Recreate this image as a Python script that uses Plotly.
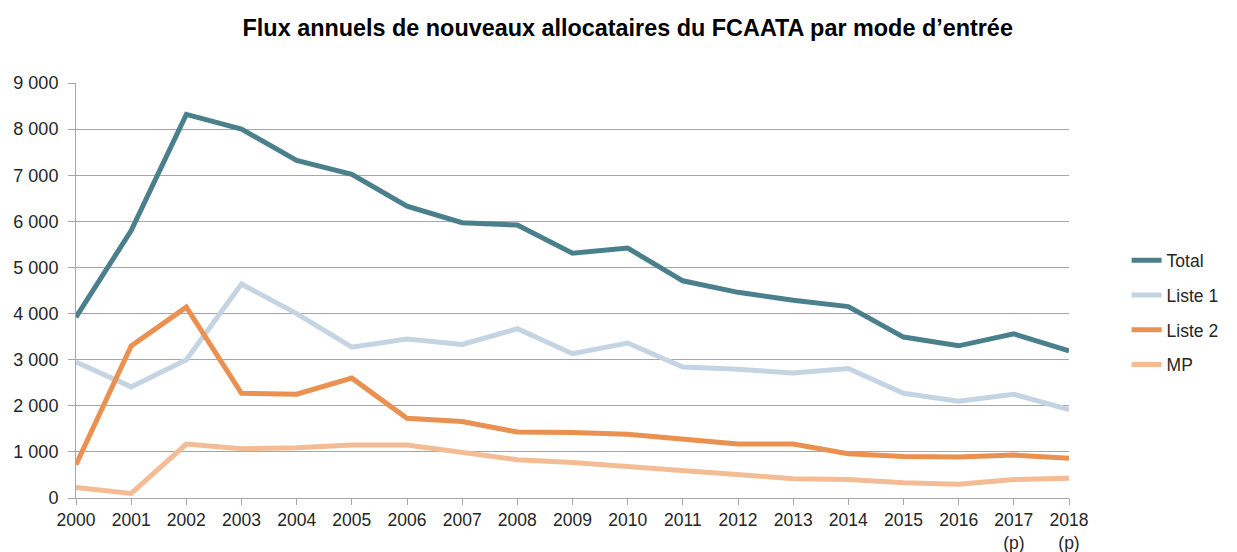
import plotly.graph_objects as go

years = list(range(2000, 2019))
year_labels = [str(y) for y in range(2000, 2017)] + ["2017<br>(p)", "2018<br>(p)"]

total = [3920, 5800, 8320, 8000, 7320, 7020, 6330, 5970, 5920, 5310, 5420, 4710, 4460, 4290, 4150, 3490, 3300, 3560, 3190]
liste1 = [2950, 2410, 3000, 4640, 4000, 3270, 3450, 3330, 3670, 3130, 3360, 2840, 2790, 2710, 2810, 2270, 2100, 2250, 1920]
liste2 = [720, 3300, 4140, 2270, 2250, 2600, 1730, 1660, 1430, 1420, 1380, 1270, 1170, 1170, 960, 900, 890, 930, 860]
mp = [230, 100, 1170, 1070, 1090, 1150, 1150, 1000, 830, 770, 680, 610, 500, 420, 400, 330, 300, 400, 430]

series_names = ["Total", "Liste 1", "Liste 2", "MP"]
series_values = [total, liste1, liste2, mp]
series_colors = ["#4A7F8C", "#C5D4E2", "#EA9050", "#F3BC94"]

y_ticks = list(range(0, 10000, 1000))
y_labels = ["0"] + [f"{v // 1000} 000" for v in y_ticks[1:]]

fig = go.Figure()
for name, vals, col in zip(series_names, series_values, series_colors):
    fig.add_trace(go.Scatter(
        x=years, y=vals, name=name, mode="lines",
        line=dict(color=col, width=5),
        legendgroup=name,
    ))

fig.update_layout(
    width=1237, height=552,
    paper_bgcolor="white", plot_bgcolor="white",
    margin=dict(l=68, r=176, t=75, b=62, autoexpand=False),
    font=dict(family="Liberation Sans, Arial, sans-serif", size=17.5, color="#262626"),
    title=dict(
        text="<b>Flux annuels de nouveaux allocataires du FCAATA par mode d’entrée</b>",
        x=0.501, xanchor="center", y=0.964, yanchor="middle",
        font=dict(family="Liberation Sans, Arial", size=23.4, color="#000000"),
    ),
    xaxis=dict(
        range=[2000, 2018], tickvals=years, ticktext=year_labels,
        showgrid=False, showline=True, linecolor="#A6A6A6", linewidth=1,
        ticks="outside", ticklen=6, tickcolor="#A6A6A6",
        tickfont=dict(size=17.5), zeroline=False,
    ),
    yaxis=dict(
        range=[0, 9000], tickvals=y_ticks, ticktext=y_labels,
        showgrid=True, gridcolor="#A6A6A6", gridwidth=1,
        showline=True, linecolor="#A6A6A6", linewidth=1,
        ticks="outside", ticklen=7, tickcolor="#A6A6A6",
        tickfont=dict(size=18), zeroline=False, ticklabelstandoff=6,
    ),
    legend=dict(
        x=1.058, xanchor="left", y=0.447, yanchor="middle",
        traceorder="grouped", tracegroupgap=9,
        font=dict(size=17.5), itemwidth=30, bgcolor="rgba(0,0,0,0)",
    ),
    showlegend=True,
)

fig.write_html("out.html")
